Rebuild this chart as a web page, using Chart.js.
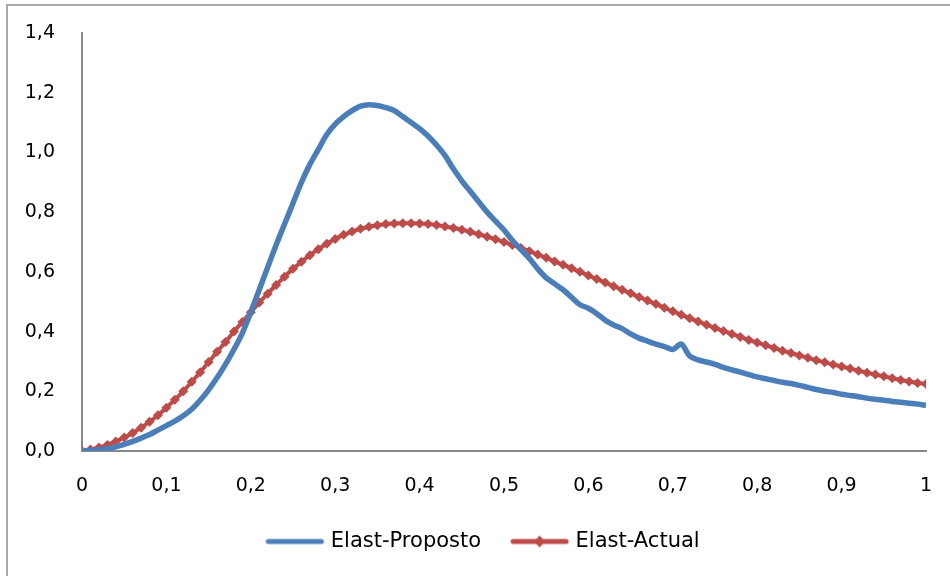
<!DOCTYPE html>
<html>
<head>
<meta charset="utf-8">
<script src="https://cdn.jsdelivr.net/npm/chart.js@4"></script>
<style>
  html, body { margin: 0; padding: 0; background: #fff; }
  #frame { position: absolute; left: 6px; top: 4px; width: 944px; height: 572px;
           border-top: 2px solid #a9a9a9; border-left: 2px solid #a9a9a9; box-sizing: border-box; }
  #wrap { position: absolute; left: 0; top: 0; width: 950px; height: 576px; }
</style>
</head>
<body>
<div id="frame"></div>
<div id="wrap"><canvas id="chart" width="950" height="576"></canvas></div>
<script>
// Valores (x de 0 a 1, passo 0,01)
const xValues = [
  0.00, 0.01, 0.02, 0.03, 0.04, 0.05, 0.06, 0.07, 0.08, 0.09,
  0.10, 0.11, 0.12, 0.13, 0.14, 0.15, 0.16, 0.17, 0.18, 0.19,
  0.20, 0.21, 0.22, 0.23, 0.24, 0.25, 0.26, 0.27, 0.28, 0.29,
  0.30, 0.31, 0.32, 0.33, 0.34, 0.35, 0.36, 0.37, 0.38, 0.39,
  0.40, 0.41, 0.42, 0.43, 0.44, 0.45, 0.46, 0.47, 0.48, 0.49,
  0.50, 0.51, 0.52, 0.53, 0.54, 0.55, 0.56, 0.57, 0.58, 0.59,
  0.60, 0.61, 0.62, 0.63, 0.64, 0.65, 0.66, 0.67, 0.68, 0.69,
  0.70, 0.71, 0.72, 0.73, 0.74, 0.75, 0.76, 0.77, 0.78, 0.79,
  0.80, 0.81, 0.82, 0.83, 0.84, 0.85, 0.86, 0.87, 0.88, 0.89,
  0.90, 0.91, 0.92, 0.93, 0.94, 0.95, 0.96, 0.97, 0.98, 0.99,
  1.00
];

const elastProposto = [
  0.000, 0.002, 0.004, 0.008, 0.014, 0.022, 0.032, 0.043, 0.055, 0.070,
  0.085, 0.100, 0.118, 0.140, 0.170, 0.205, 0.245, 0.290, 0.340, 0.395,
  0.465, 0.540, 0.615, 0.690, 0.760, 0.830, 0.900, 0.960, 1.010, 1.060,
  1.095, 1.120, 1.140, 1.155, 1.160, 1.157, 1.150, 1.140, 1.120, 1.100,
  1.080, 1.055, 1.025, 0.990, 0.945, 0.905, 0.870, 0.835, 0.800, 0.770,
  0.740, 0.705, 0.675, 0.645, 0.610, 0.580, 0.560, 0.540, 0.515, 0.490,
  0.478, 0.460, 0.438, 0.422, 0.410, 0.392, 0.378, 0.368, 0.358, 0.350,
  0.340, 0.358, 0.318, 0.305, 0.298, 0.290, 0.280, 0.272, 0.264, 0.256,
  0.248, 0.242, 0.236, 0.230, 0.226, 0.220, 0.213, 0.206, 0.200, 0.196,
  0.190, 0.186, 0.182, 0.177, 0.173, 0.170, 0.166, 0.163, 0.160, 0.157,
  0.153
];

const elastActual = [
  0.000, 0.005, 0.012, 0.020, 0.032, 0.045, 0.060, 0.078, 0.098, 0.120,
  0.145, 0.172, 0.200, 0.232, 0.264, 0.298, 0.332, 0.365, 0.400, 0.432,
  0.465, 0.497, 0.527, 0.556, 0.584, 0.610, 0.634, 0.656, 0.676, 0.694,
  0.710, 0.724, 0.735, 0.744, 0.751, 0.756, 0.760, 0.762, 0.763, 0.763,
  0.762, 0.760, 0.757, 0.752, 0.747, 0.741, 0.734, 0.726, 0.718, 0.709,
  0.700, 0.690, 0.680, 0.669, 0.658, 0.647, 0.635, 0.624, 0.612, 0.600,
  0.588, 0.576, 0.564, 0.552, 0.540, 0.528, 0.516, 0.504, 0.492, 0.480,
  0.468, 0.456, 0.445, 0.434, 0.423, 0.412, 0.402, 0.392, 0.382, 0.372,
  0.363, 0.354, 0.345, 0.336, 0.328, 0.320, 0.312, 0.304, 0.297, 0.290,
  0.283, 0.276, 0.269, 0.262, 0.256, 0.250, 0.244, 0.238, 0.233, 0.228,
  0.224
];

const seriesNames = ['Elast-Proposto', 'Elast-Actual'];
const seriesColors = ['#4a7ebb', '#be4b48'];

function toPoints(ys) {
  return xValues.map(function(x, i) { return {x: x, y: ys[i]}; });
}

function commaNumber(v, digits) {
  return Number(v).toFixed(digits).replace('.', ',');
}

// Ícones da legenda: linha (e losango para a série actual)
function legendIcon(color, withMarker) {
  const c = document.createElement('canvas');
  c.width = 62; c.height = 14;
  const g = c.getContext('2d');
  g.strokeStyle = color;
  g.lineWidth = 5;
  g.lineCap = 'round';
  g.beginPath();
  g.moveTo(3, 7);
  g.lineTo(56, 7);
  g.stroke();
  if (withMarker) {
    g.fillStyle = color;
    g.beginPath();
    g.moveTo(29.5, 1); g.lineTo(35, 7); g.lineTo(29.5, 13); g.lineTo(24, 7);
    g.closePath();
    g.fill();
  }
  return c;
}

// Desloca a legenda para a direita, como no original
const legendShift = {
  id: 'legendShift',
  afterLayout: function(chart) {
    chart.legend.left += 19;
    chart.legend.right += 19;
  }
};

const tickFont = { family: 'DejaVu Sans', size: 19 };

const ctx = document.getElementById('chart').getContext('2d');
new Chart(ctx, {
  type: 'line',
  data: {
    datasets: [{
      label: seriesNames[0],
      data: toPoints(elastProposto),
      borderColor: seriesColors[0],
      backgroundColor: seriesColors[0],
      borderWidth: 5.5,
      pointRadius: 0,
      tension: 0.3
    }, {
      label: seriesNames[1],
      data: toPoints(elastActual),
      borderColor: seriesColors[1],
      backgroundColor: seriesColors[1],
      borderWidth: 4,
      pointStyle: 'rectRot',
      pointRadius: 5,
      pointBorderWidth: 0,
      tension: 0.3
    }]
  },
  plugins: [legendShift],
  options: {
    responsive: false,
    animation: false,
    layout: { padding: { left: 8, right: 24, top: 33, bottom: 14 } },
    plugins: {
      tooltip: { enabled: false },
      legend: {
        position: 'bottom',
        labels: {
          usePointStyle: true,
          pointStyleWidth: 48,
          boxHeight: 14,
          padding: 36,
          color: '#000',
          font: { family: 'DejaVu Sans', size: 21 },
          generateLabels: function(chart) {
            return chart.data.datasets.map(function(ds, i) {
              return {
                text: ds.label,
                fillStyle: 'transparent',
                strokeStyle: 'transparent',
                lineWidth: 0,
                pointStyle: legendIcon(seriesColors[i], i === 1),
                datasetIndex: i
              };
            });
          }
        }
      }
    },
    scales: {
      x: {
        type: 'linear',
        min: 0,
        max: 1,
        grid: { display: true, drawOnChartArea: false, drawTicks: true, tickLength: 21, color: 'transparent' },
        border: { display: true, color: '#888', width: 2 },
        ticks: {
          stepSize: 0.1,
          padding: 3,
          color: '#000',
          maxRotation: 0,
          font: tickFont,
          callback: function(v) { return v === 0 || v === 1 ? String(v) : commaNumber(v, 1); }
        },
        afterFit: function(scale) { scale.height = 44; }
      },
      y: {
        min: 0,
        max: 1.4,
        grid: { display: true, drawOnChartArea: false, drawTicks: true, tickLength: 24, color: 'transparent' },
        border: { display: true, color: '#888', width: 2 },
        ticks: {
          stepSize: 0.2,
          padding: 3,
          color: '#000',
          font: tickFont,
          callback: function(v) { return commaNumber(v, 1); }
        },
        afterFit: function(scale) { scale.width = 74; }
      }
    }
  }
});
</script>
</body>
</html>
